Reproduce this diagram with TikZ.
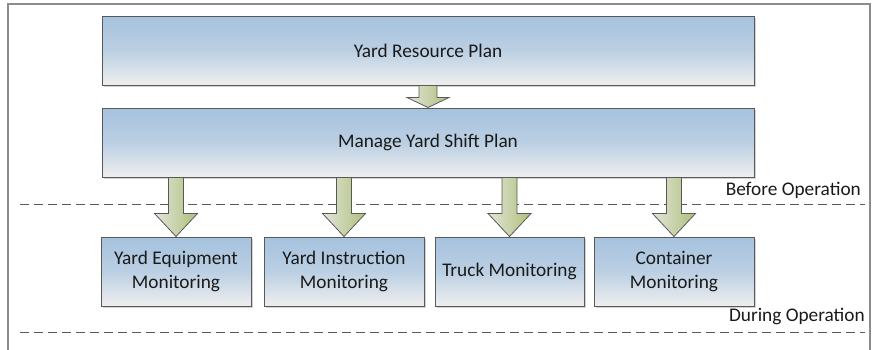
\documentclass[tikz,border=0pt]{standalone}
\usepackage{fontspec}
\setmainfont{Carlito}
\usetikzlibrary{calc,shadows}
\definecolor{boxtop}{HTML}{A5C2DE}
\definecolor{boxbot}{HTML}{EEEEEE}
\definecolor{boxline}{HTML}{595959}
\definecolor{arrl}{HTML}{E2E4DA}
\definecolor{arrr}{HTML}{AEC07A}
\definecolor{frameline}{HTML}{8C8C8C}
\definecolor{txt}{HTML}{1A1A1A}
\tikzset{
  boxnode/.style={draw=boxline, line width=1pt, top color=boxtop, bottom color=boxbot,
    middle color=boxtop!70!boxbot,
    drop shadow={shadow xshift=1.5pt, shadow yshift=-1.5pt, opacity=0.35, fill=gray},
    minimum height=69pt, inner sep=0pt, align=center, text=txt,
    font=\fontsize{19.3}{24}\selectfont},
  blockarrow/.style={draw=boxline, line width=0.8pt, left color=arrl, right color=arrr, line join=miter},
  sepline/.style={draw=boxline, line width=0.9pt, dash pattern=on 9pt off 5pt},
  phaselabel/.style={anchor=east, inner sep=0pt, text=txt, font=\fontsize{19.3}{24}\selectfont}
}
\begin{document}
\begin{tikzpicture}[x=1pt,y=-1pt]
\useasboundingbox (0,0) rectangle (873,349);
\draw[frameline, line width=1.5pt] (8,352) -- (8,4) -- (870,4) -- (870,352);

\node[boxnode, minimum width=652pt] (top) at (428,50.5) {Yard Resource Plan};
\node[boxnode, minimum width=652pt] (mid) at (428,142.5) {Manage Yard Shift Plan};

\node[boxnode, minimum width=150pt] (b1) at (176,271.5) {Yard Equipment\\Monitoring};
\node[boxnode, minimum width=160pt] (b2) at (344,271.5) {Yard Instruction\\Monitoring};
\node[boxnode, minimum width=149pt] (b3) at (509.5,271.5) {Truck Monitoring};
\node[boxnode, minimum width=160pt] (b4) at (674,271.5) {Container\\Monitoring};

\coordinate (s1l) at (20,204.5); \coordinate (s1r) at (865,204.5);
\coordinate (s2l) at (20,332); \coordinate (s2r) at (865,332);
\draw[sepline] (s1l) -- (s1r);
\draw[sepline] (s2l) -- (s2r);

\node[phaselabel] (bo) at (861,190) {Before Operation};
\node[phaselabel] (do) at (865,316) {During Operation};

% top arrow
\draw[blockarrow]
  ($(top.south)+(-9,0)$) -- ($(mid.north)+(-9,-10)$) -- ($(mid.north)+(-21,-10)$) --
  (mid.north) -- ($(mid.north)+(21,-10)$) -- ($(mid.north)+(9,-10)$) -- ($(top.south)+(9,0)$) -- cycle;

\foreach \b in {b1,b2,b3,b4}{
  \draw[blockarrow]
    ($(mid.south -| \b.north)+(-7.5,0)$) -- ($(\b.north)+(-7.5,-23)$) -- ($(\b.north)+(-21.5,-23)$) --
    (\b.north) -- ($(\b.north)+(21.5,-23)$) -- ($(\b.north)+(7.5,-23)$) -- ($(mid.south -| \b.north)+(7.5,0)$) -- cycle;
}
\end{tikzpicture}
\end{document}
